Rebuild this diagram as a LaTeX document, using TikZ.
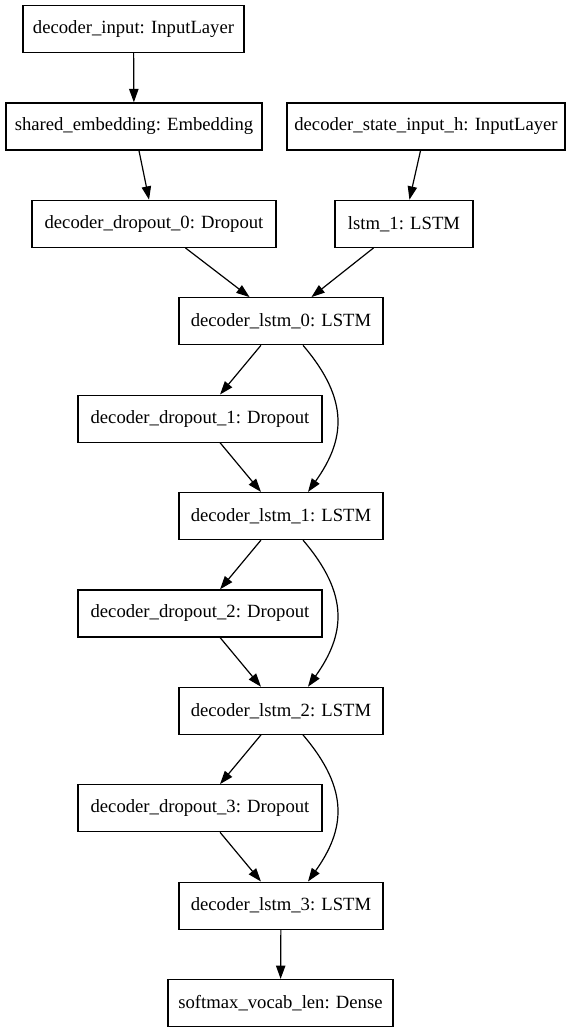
\documentclass[tikz,border=0pt]{standalone}
\usepackage{fontspec}
\setmainfont{Liberation Serif}
\newfontfamily\gvfont{Liberation Serif}
\usetikzlibrary{arrows.meta,calc}
\begin{document}
\begin{tikzpicture}[x=0.75pt,y=-0.75pt,
  layer/.style={draw,line width=0.9pt,minimum height=47*0.75pt,inner sep=0pt,
    font=\gvfont\fontsize{14}{16}\selectfont},
  edge/.style={line width=0.9pt,-{Triangle[length=10pt,width=7pt]}}]
\useasboundingbox (0,0) rectangle (575,1033);
\node[layer,minimum width=221*0.75pt] (in) at (133.5,29) {decoder\_input: InputLayer};
\node[layer,minimum width=256*0.75pt] (emb) at (134,126.4) {shared\_embedding: Embedding};
\node[layer,minimum width=278*0.75pt] (stin) at (426,126.4) {decoder\_state\_input\_h: InputLayer};
\node[layer,minimum width=244*0.75pt] (do0) at (154,223.8) {decoder\_dropout\_0: Dropout};
\node[layer,minimum width=138*0.75pt] (l1) at (404,223.8) {lstm\_1: LSTM};
\node[layer,minimum width=204*0.75pt] (dl0) at (281,321.2) {decoder\_lstm\_0: LSTM};
\node[layer,minimum width=244*0.75pt] (do1) at (200,418.6) {decoder\_dropout\_1: Dropout};
\node[layer,minimum width=204*0.75pt] (dl1) at (281,516) {decoder\_lstm\_1: LSTM};
\node[layer,minimum width=244*0.75pt] (do2) at (200,613.4) {decoder\_dropout\_2: Dropout};
\node[layer,minimum width=204*0.75pt] (dl2) at (281,710.8) {decoder\_lstm\_2: LSTM};
\node[layer,minimum width=244*0.75pt] (do3) at (200,808.2) {decoder\_dropout\_3: Dropout};
\node[layer,minimum width=204*0.75pt] (dl3) at (281,905.6) {decoder\_lstm\_3: LSTM};
\node[layer,minimum width=225*0.75pt] (sm) at (280.5,1003) {softmax\_vocab\_len: Dense};
\draw[edge] (in) -- (emb);
\draw[edge] (emb) -- (do0);
\draw[edge] (stin) -- (l1);
\draw[edge] (do0) -- (dl0);
\draw[edge] (l1) -- (dl0);
\foreach \a/\d/\b in {dl0/do1/dl1,dl1/do2/dl2,dl2/do3/dl3}{
  \draw[edge] (\a) -- (\d);
  \draw[edge] (\d) -- (\b);
  \draw[edge] ($(\a.south)+(22,0)$) .. controls ($(\a.south)+(69,55)$) and ($(\b.north)+(64,-52)$) .. ($(\b.north)+(27,0)$);
}
\draw[edge] (dl3) -- (sm);
\end{tikzpicture}
\end{document}
